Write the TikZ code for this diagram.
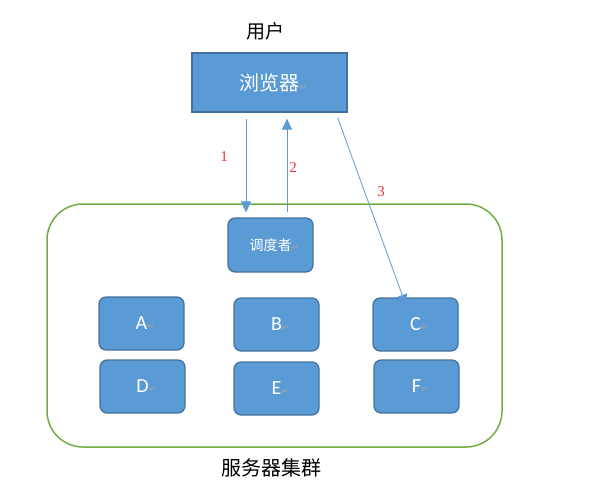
\documentclass[tikz,border=0pt]{standalone}
\usepackage{fontspec}
\setmainfont{Carlito}
\newfontfamily\cjk{Noto Sans CJK SC}
\newfontfamily\numfont{Liberation Serif}
\newfontfamily\symfont{DejaVu Sans}
\usepackage{xcolor}
\usetikzlibrary{positioning}
\usetikzlibrary{arrows.meta}
\definecolor{boxblue}{HTML}{5B9BD5}
\definecolor{boxedge}{HTML}{41719C}
\definecolor{clustergreen}{HTML}{70AD47}
\definecolor{labelred}{HTML}{E8383D}
\newcommand{\retmark}{\rlap{\symfont\color{gray!70}\fontsize{9}{9}\selectfont ↵}}
\tikzset{
  blue box/.style={
    draw=boxedge, fill=boxblue, line width=1.2pt,
    inner sep=0pt, text=white,
  },
  server/.style={
    blue box, rounded corners=7pt,
    minimum width=85pt, minimum height=53pt,
    font=\fontsize{20}{20}\selectfont,
  },
  request/.style={
    draw=boxblue, line width=0.8pt,
    -{Triangle[length=11pt,width=10pt]},
  },
  hop label/.style={text=labelred, font=\numfont\fontsize{15}{15}\selectfont},
}

\begin{document}
\begin{tikzpicture}[x=1pt, y=-1pt]

  \useasboundingbox (0,0) rectangle (598,496);

  % Define nodes
  \node[draw=clustergreen, line width=1.5pt, rounded corners=36pt,
        minimum width=455pt, minimum height=243pt] (cluster) at (274.5,325.5) {};
  \node[font=\cjk\fontsize{19}{19}\selectfont] (user) at (265,31) {用户};
  \node[blue box, minimum width=155pt, minimum height=59pt,
        font=\cjk\fontsize{20}{20}\selectfont] (browser) at (269.5,82.5) {浏览器\retmark};
  \node[server, minimum height=54pt, font=\cjk\fontsize{14}{14}\selectfont]
        (dispatcher) at (270.5,245) {调度者\retmark};
  \node[server] (A) at (141.5,323.5) {A\retmark};
  \node[server] (B) at (276.5,324.5) {B\retmark};
  \node[server] (C) at (415.5,324.5) {C\retmark};
  \node[server] (D) at (142.5,386.5) {D\retmark};
  \node[server] (E) at (276.5,388.5) {E\retmark};
  \node[server] (F) at (416.5,386.5) {F\retmark};
  \node[font=\cjk\fontsize{20}{20}\selectfont] (clustername) at (271,468) {服务器集群};

  % Connect nodes
  \draw[request] ([xshift=-23.5pt,yshift=-6pt]browser.south) -- ([xshift=-24.5pt,yshift=5pt]dispatcher.north);
  \draw[request] ([xshift=16.5pt,yshift=5pt]dispatcher.north) -- ([xshift=17.5pt,yshift=-6pt]browser.south);
  \draw[request] ([xshift=-10pt,yshift=-5pt]browser.south east) -- ([xshift=-9.5pt,yshift=-8pt]C.north);

  % Step numbers
  \node[hop label] (hop1) at (224,157) {1};
  \node[hop label] (hop2) at (293,168) {2};
  \node[hop label] (hop3) at (381,192) {3};

\end{tikzpicture}
\end{document}
